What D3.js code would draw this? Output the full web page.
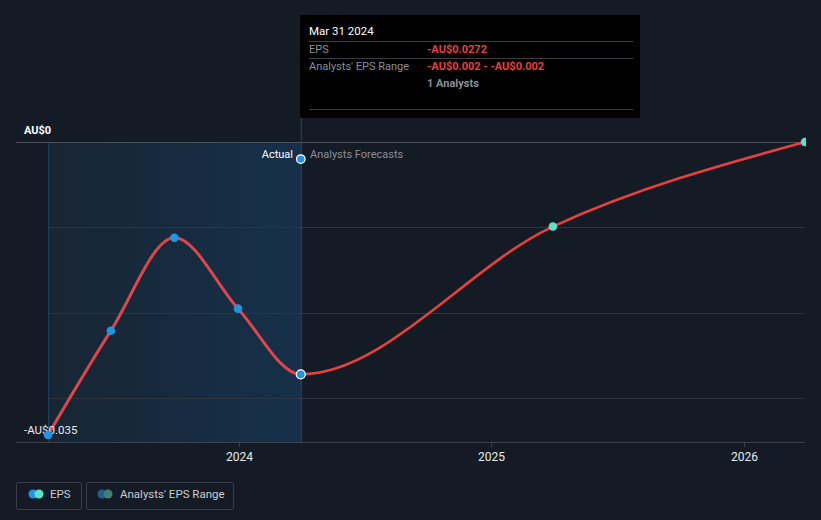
<!DOCTYPE html>
<html><head><meta charset="utf-8">
<script src="https://cdn.jsdelivr.net/npm/d3@7"></script>
<style>
html,body{margin:0;padding:0;background:#151b25;}
svg{display:block;font-family:Roboto,"Noto Sans",sans-serif;}
</style></head>
<body>
<svg id="c" width="821" height="520"></svg>
<script>
const dates = ["2023-03-31","2023-06-30","2023-09-30","2023-12-31","2024-03-31","2025-03-31","2026-03-31"];
const eps = [-0.0343,-0.0221,-0.0112,-0.0195,-0.0272,-0.0099,0.0000];
const isForecast = [false,false,false,false,false,true,true];
const rangeDate = "2024-03-31";
const rangeValue = -0.002;
const yTicks = [0,-0.01,-0.02,-0.03];
const xTicks = ["2024-01-01","2025-01-01","2026-01-01"];
const yLabels = ["AU$0","-AU$0.035"];
const tooltipRows = [["EPS","-AU$0.0272"],["Analysts' EPS Range","-AU$0.002 - -AU$0.002"],["","1 Analysts"]];

const parse = d3.timeParse("%Y-%m-%d");
const svg = d3.select("#c");
const x = d3.scaleTime().domain([parse("2023-03-31"),parse("2026-03-31")]).range([48,805]);
const y = d3.scaleLinear().domain([0,-0.035]).range([142,441]);

const defs = svg.append("defs");
const g = defs.append("linearGradient").attr("id","sh").attr("x1","0").attr("x2","1");
g.append("stop").attr("offset","0").attr("stop-color","#182533");
g.append("stop").attr("offset","1").attr("stop-color","#16304a");

// shaded actual region
const xa0 = x(parse(dates[0])), xa1 = x(parse(rangeDate));
defs.append("clipPath").attr("id","act").append("rect").attr("x",0).attr("y",0).attr("width",xa1).attr("height",520);
defs.append("clipPath").attr("id","plot").append("rect").attr("x",0).attr("y",0).attr("width",806).attr("height",520);
svg.append("rect").attr("x",xa0).attr("y",142).attr("width",xa1-xa0).attr("height",442-142).attr("fill","url(#sh)");
svg.append("line").attr("x1",xa0+0.5).attr("x2",xa0+0.5).attr("y1",142).attr("y2",442).attr("stroke","#1f3f5e").attr("stroke-width",1);

// gridlines
yTicks.forEach((t,i)=>{
  svg.append("line").attr("x1",i===0?16:48).attr("x2",805).attr("y1",Math.round(y(t))+0.5).attr("y2",Math.round(y(t))+0.5)
    .attr("stroke",i===0?"#4a505b":"#2c343f").attr("stroke-width",1);
});
// bottom axis
svg.append("line").attr("x1",16).attr("x2",805).attr("y1",442.5).attr("y2",442.5).attr("stroke","#3c424d");
xTicks.forEach(t=>{
  const xx = Math.round(x(parse(t)))+0.5;
  svg.append("line").attr("x1",xx).attr("x2",xx).attr("y1",442).attr("y2",447).attr("stroke","#3c424d");
  svg.append("text").attr("x",xx).attr("y",461).attr("text-anchor","middle").attr("fill","#e8eaed")
    .attr("font-size",12).text(t.slice(0,4));
});

// vertical hover line
svg.append("line").attr("x1",xa1+0.5).attr("x2",xa1+0.5).attr("y1",118).attr("y2",442).attr("stroke","#2c4660").attr("stroke-width",1);

// y labels
svg.append("text").attr("x",24).attr("y",134).attr("fill","#ffffff").attr("font-size",11).attr("font-weight","bold").text(yLabels[0]);

// line
const pts = dates.map((d,i)=>({d:parse(d),v:eps[i],f:isForecast[i]}));
const line = d3.line().x(p=>x(p.d)).y(p=>y(p.v)).curve(d3.curveMonotoneX);
svg.append("path").datum(pts).attr("d",line).attr("fill","none").attr("stroke","#e5413f").attr("stroke-width",2.6);
svg.append("path").datum(pts).attr("d",line).attr("fill","none").attr("stroke","#d8474d").attr("stroke-width",2.8).attr("clip-path","url(#act)");

svg.append("text").attr("x",24).attr("y",434).attr("fill","#e8eaed").attr("font-size",11.5).text(yLabels[1]);

// points
const pg = svg.append("g").attr("clip-path","url(#plot)");
pts.forEach((p,i)=>{
  const last = i===4;
  pg.append("circle").attr("cx",x(p.d)).attr("cy",y(p.v)).attr("r",last?4.5:4.3)
    .attr("fill",p.f?"#5ee0c8":"#2394df").attr("stroke",last?"#ffffff":"none").attr("stroke-width",last?1.2:0);
});
// range point
svg.append("circle").attr("cx",x(parse(rangeDate))).attr("cy",y(rangeValue)).attr("r",4.3).attr("fill","#2394df").attr("stroke","#ffffff").attr("stroke-width",1.2);

svg.append("text").attr("x",293).attr("y",158).attr("text-anchor","end").attr("fill","#ffffff").attr("font-size",11).text("Actual");
svg.append("text").attr("x",310).attr("y",158).attr("fill","#8a8f98").attr("font-size",11).text("Analysts Forecasts");

// tooltip
const tt = svg.append("g");
tt.append("rect").attr("x",300).attr("y",15).attr("width",340).attr("height",103).attr("fill","#000000");
tt.append("text").attr("x",309).attr("y",35).attr("fill","#ffffff").attr("font-size",11.5).text("Mar 31 2024");
[41,58,109].forEach(yy=>tt.append("line").attr("x1",309).attr("x2",633).attr("y1",yy+0.5).attr("y2",yy+0.5).attr("stroke","#3a3d42"));
const rowY = [53,70,87];
tooltipRows.forEach((r,i)=>{
  if(r[0]) tt.append("text").attr("x",309).attr("y",rowY[i]).attr("fill","#8a8f98").attr("font-size",11).text(r[0]);
  tt.append("text").attr("x",427).attr("y",rowY[i]).attr("fill",i<2?"#e5413f":"#8a8f98").attr("font-size",11).attr("font-weight","bold").text(r[1]);
});

// legend
const lg = svg.append("g");
lg.append("rect").attr("x",16.5).attr("y",482.5).attr("width",65).attr("height",27).attr("rx",2).attr("fill","none").attr("stroke","#3a404b");
lg.append("rect").attr("x",86.5).attr("y",482.5).attr("width",147).attr("height",27).attr("rx",2).attr("fill","none").attr("stroke","#3a404b");
lg.append("circle").attr("cx",33).attr("cy",494).attr("r",4.5).attr("fill","#2394df");
lg.append("circle").attr("cx",39).attr("cy",494).attr("r",4.5).attr("fill","#5ee0c8");
lg.append("text").attr("x",50).attr("y",498).attr("fill","#c8ccd2").attr("font-size",11.5).text("EPS");
lg.append("circle").attr("cx",102).attr("cy",494).attr("r",4.5).attr("fill","#255d8a");
lg.append("circle").attr("cx",108).attr("cy",494).attr("r",4.5).attr("fill","#3e8079");
lg.append("text").attr("x",120).attr("y",498).attr("fill","#c8ccd2").attr("font-size",11.5).text("Analysts' EPS Range");
</script>
</body></html>
